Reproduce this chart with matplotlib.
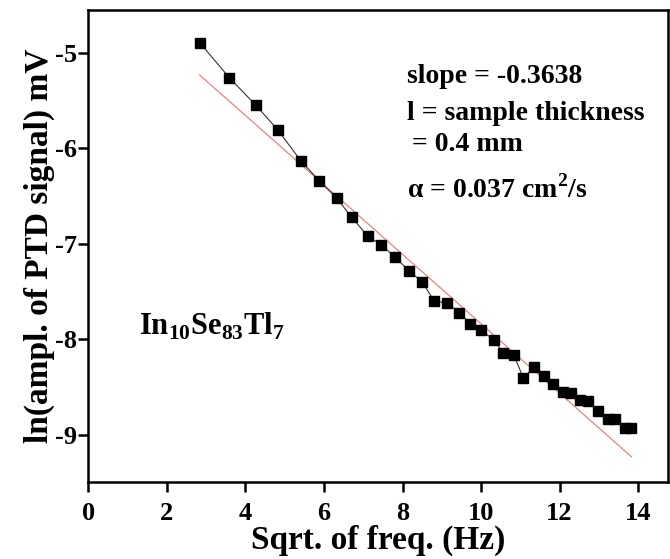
import matplotlib.pyplot as plt
import numpy as np

# measured points (sqrt of frequency, ln amplitude)
sqrt_freq = [2.83, 3.59, 4.27, 4.83, 5.41, 5.88, 6.32, 6.70, 7.12, 7.46,
             7.81, 8.16, 8.50, 8.81, 9.14, 9.44, 9.73, 10.00, 10.32, 10.57,
             10.83, 11.08, 11.34, 11.59, 11.84, 12.09, 12.29, 12.52, 12.73,
             12.98, 13.24, 13.42, 13.66, 13.83]
ln_ampl = [-4.89, -5.26, -5.55, -5.81, -6.13, -6.34, -6.52, -6.72, -6.92, -7.01,
           -7.14, -7.28, -7.40, -7.60, -7.62, -7.72, -7.84, -7.90, -8.01, -8.14,
           -8.16, -8.41, -8.29, -8.38, -8.47, -8.55, -8.56, -8.64, -8.65,
           -8.75, -8.84, -8.84, -8.93, -8.93]

# linear fit shown in red
fit_slope = -0.3638
fit_intercept = -4.20
fit_range = [2.83, 13.83]

x_ticks = [0, 2, 4, 6, 8, 10, 12, 14]
y_ticks = [-5, -6, -7, -8, -9]

plt.rcParams['font.family'] = ['Liberation Serif', 'DejaVu Serif']
plt.rcParams['font.weight'] = 'bold'
plt.rcParams['axes.unicode_minus'] = False
plt.rcParams['mathtext.fontset'] = 'custom'
plt.rcParams['mathtext.rm'] = 'Liberation Serif:bold'
plt.rcParams['mathtext.bf'] = 'Liberation Serif:bold'

fig = plt.figure(figsize=(6.7, 5.59), dpi=100)
ax = fig.add_axes([0.132, 0.137, 0.865, 0.845])

fx = np.array(fit_range)
ax.plot(fx, fit_intercept + fit_slope * fx, color='#f08080', lw=0.9, zorder=2)
ax.plot(sqrt_freq, ln_ampl, color='#333333', lw=0.8, marker='s',
        markersize=7, markerfacecolor='black', markeredgecolor='black', zorder=3)

ax.set_xlim(0, 14.76)
ax.set_ylim(-9.5, -4.55)
ax.set_xticks(x_ticks)
ax.set_yticks(y_ticks)
ax.tick_params(direction='out', length=7, width=1.8, labelsize=19,
               top=False, right=False)
ax.tick_params(axis='x', pad=7)
ax.tick_params(axis='y', pad=1.5)
for lab in ax.get_xticklabels() + ax.get_yticklabels():
    lab.set_fontweight('bold')
for sp in ax.spines.values():
    sp.set_linewidth(1.8)

ax.set_xlabel('Sqrt. of freq. (Hz)', fontsize=24, fontweight='bold', labelpad=0)
ax.set_ylabel('ln(ampl. of PTD signal) mV', fontsize=24, fontweight='bold', labelpad=0)

ax.text(8.11, -5.31, 'slope = -0.3638', fontsize=20, fontweight='bold')
ax.text(8.11, -5.70, 'l = sample thickness', fontsize=20, fontweight='bold')
ax.text(8.25, -6.03, '= 0.4 mm', fontsize=20, fontweight='bold')
ax.text(8.11, -6.52, r'$\mathbf{\alpha}$ = 0.037 cm$^{\mathbf{2}}$/s', fontsize=20,
        fontweight='bold')
ax.text(1.3, -7.95, r'In$_{\mathbf{10}}$Se$_{\mathbf{83}}$Tl$_{\mathbf{7}}$',
        fontsize=22, fontweight='bold')

fig.savefig('out.png', dpi=100)
